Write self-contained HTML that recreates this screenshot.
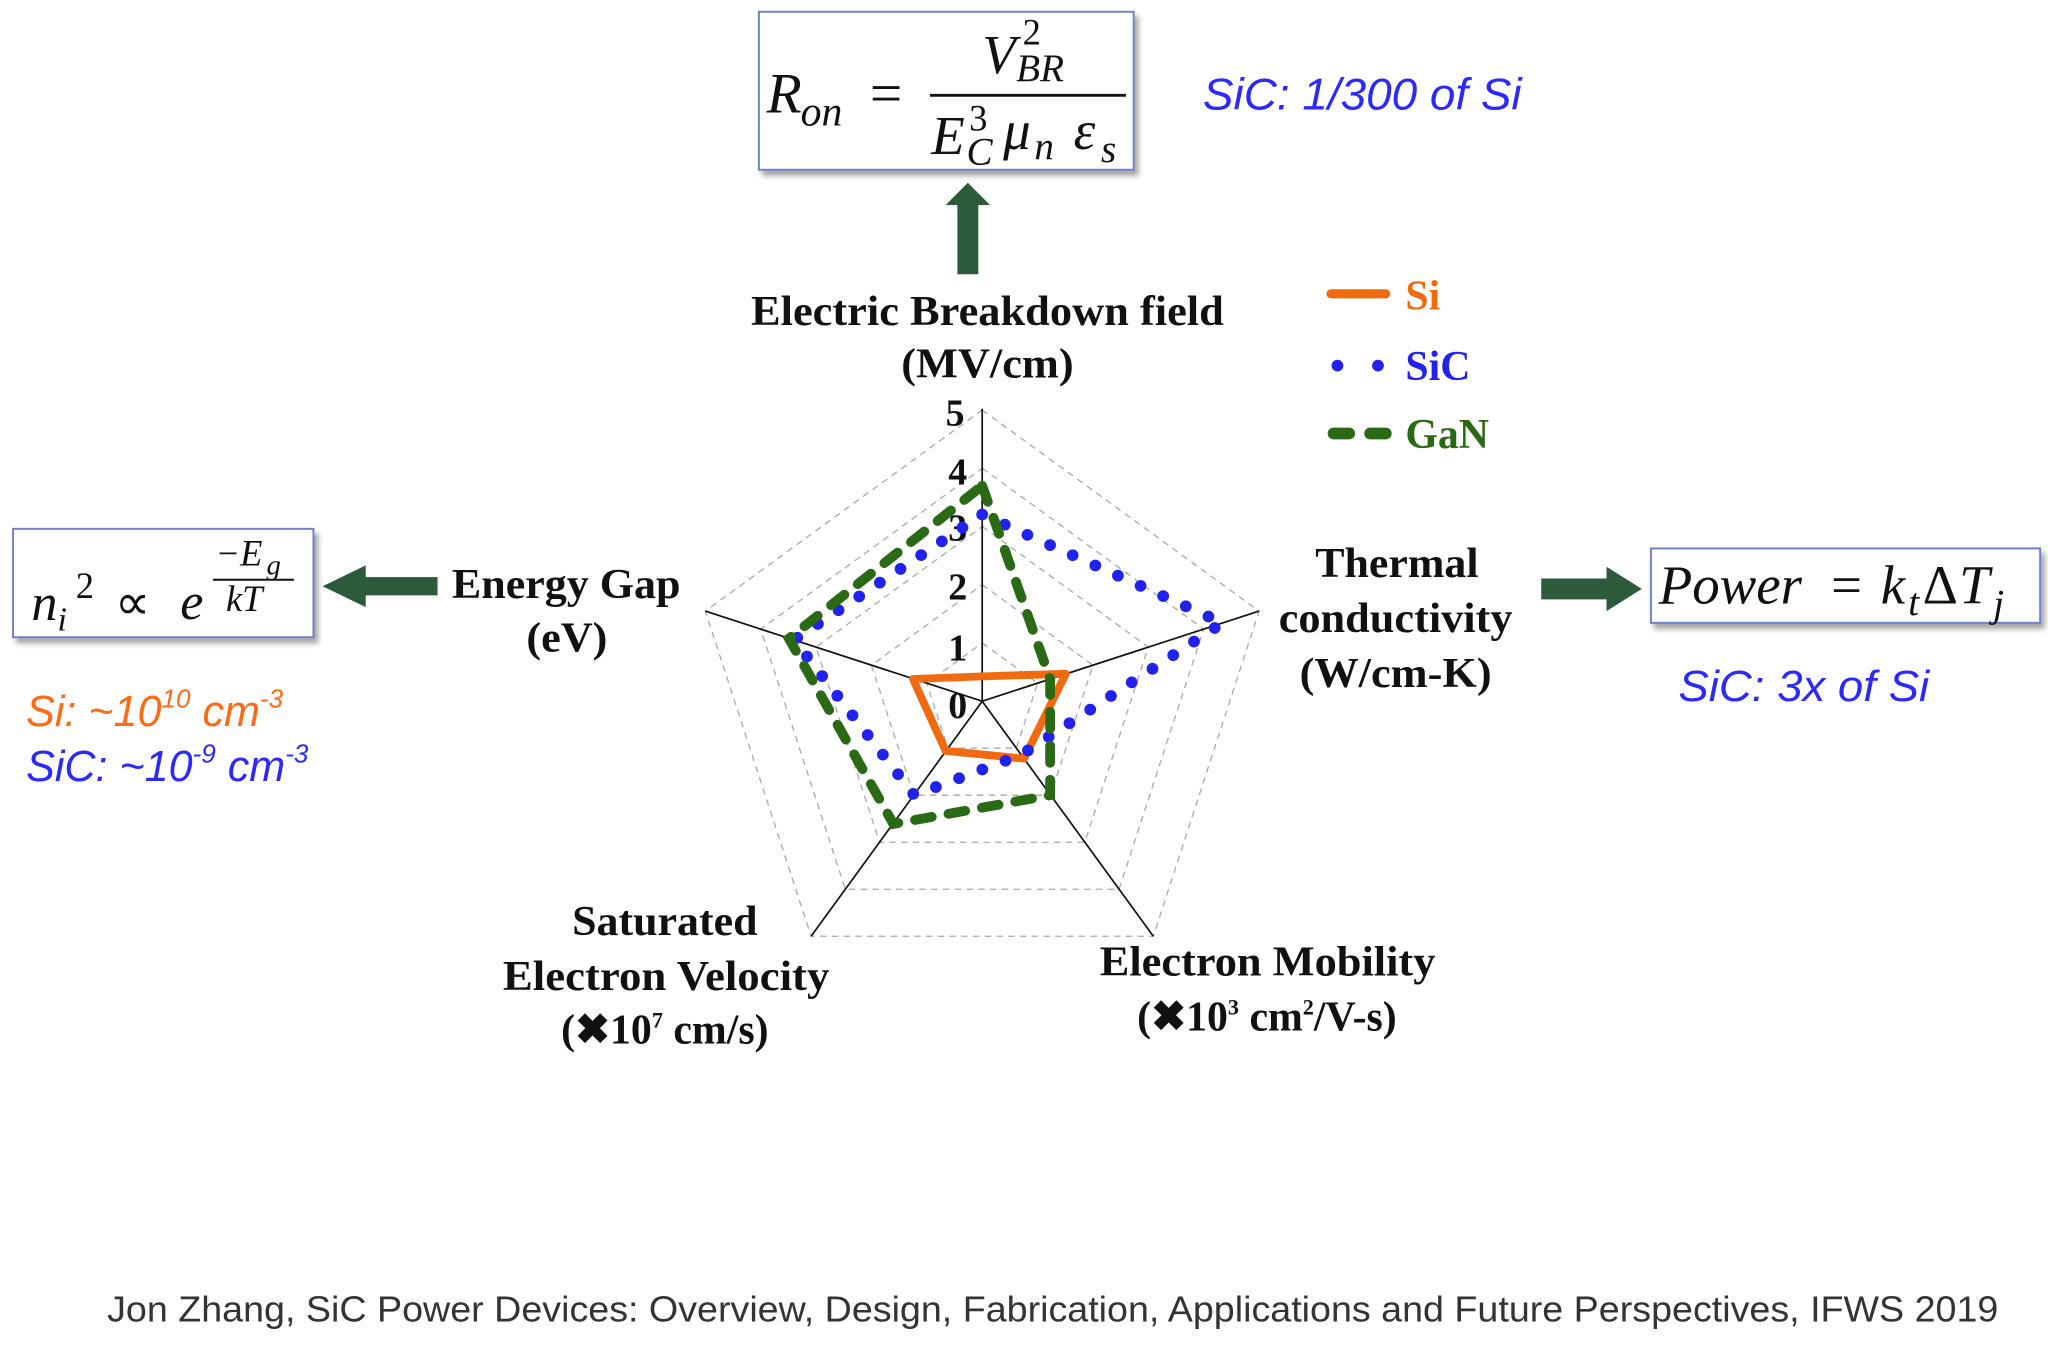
<!DOCTYPE html>
<html><head><meta charset="utf-8"><style>
html,body{margin:0;padding:0;background:#fff}
svg{display:block}
.b{font-family:"Liberation Serif",serif;font-weight:bold;fill:#111}
.m{font-family:"Liberation Serif",serif;font-style:italic;fill:#111}
.s{font-family:"Liberation Sans",sans-serif;font-style:italic}
</style></head><body>
<svg width="2048" height="1358" viewBox="0 0 1568 1040" preserveAspectRatio="none" xmlns="http://www.w3.org/2000/svg">
<defs><filter id="sh" x="-10%" y="-10%" width="130%" height="140%"><feDropShadow dx="3" dy="4" stdDeviation="2" flood-color="#000" flood-opacity="0.35"/></filter></defs>
<g fill="none" stroke="#aaa" stroke-width="1" stroke-dasharray="5 4">
<polygon points="752,492.4 794.4,523.2 778.2,573 725.8,573 709.6,523.2"/>
<polygon points="752,447.8 836.8,509.4 804.4,609 699.6,609 667.2,509.4"/>
<polygon points="752,403.2 879.2,495.6 830.6,645 673.4,645 624.8,495.6"/>
<polygon points="752,358.6 921.6,481.8 856.8,681 647.2,681 582.4,481.8"/>
<polygon points="752,314 964,468 883,717 621,717 540,468"/>
</g>
<g stroke="#111" stroke-width="1.3">
<line x1="752" y1="537" x2="752" y2="313"/><line x1="752" y1="537" x2="964" y2="468"/><line x1="752" y1="537" x2="540" y2="468"/><line x1="752" y1="537" x2="621" y2="717"/><line x1="752" y1="537" x2="883" y2="717"/>
</g>
<g class="b" font-size="29">
<text x="724" y="326">5</text><text x="726" y="371">4</text><text x="726" y="414">3</text><text x="726" y="459">2</text><text x="726" y="506">1</text><text x="726" y="550">0</text>
</g>
<polygon points="752,518 816,516 784,581 724,575 699,520" fill="none" stroke="#f26a10" stroke-width="6" stroke-linejoin="round"/>
<polygon points="752,394 936,477 782,578 700,609 608,490" fill="none" stroke="#2222ee" stroke-width="9" stroke-linecap="round" stroke-dasharray="0 19"/>
<polygon points="752,372 804,520 804,609 684,631 604,489" fill="none" stroke="#2a6a14" stroke-width="7.5" stroke-linecap="round" stroke-dasharray="13 13"/>
<line x1="1019" y1="225" x2="1061" y2="225" stroke="#f26a10" stroke-width="7" stroke-linecap="round"/>
<text class="b" x="1076" y="237" font-size="32" style="fill:#f26a10">Si</text>
<circle cx="1024" cy="280" r="4.5" fill="#2222ee"/><circle cx="1055" cy="280" r="4.5" fill="#2222ee"/>
<text class="b" x="1076" y="291" font-size="32" style="fill:#2222ee">SiC</text>
<line x1="1021" y1="332" x2="1033" y2="332" stroke="#2a6a14" stroke-width="9" stroke-linecap="round"/><line x1="1049" y1="332" x2="1061" y2="332" stroke="#2a6a14" stroke-width="9" stroke-linecap="round"/>
<text class="b" x="1076" y="343" font-size="32" style="fill:#2a6a14">GaN</text>
<g class="b" font-size="32" lengthAdjust="spacingAndGlyphs">
<text x="575" y="249" textLength="362" lengthAdjust="spacingAndGlyphs">Electric Breakdown field</text>
<text x="690" y="289" textLength="132" lengthAdjust="spacingAndGlyphs">(MV/cm)</text>
<text x="346" y="458" textLength="175" lengthAdjust="spacingAndGlyphs">Energy Gap</text>
<text x="403" y="499" textLength="62" lengthAdjust="spacingAndGlyphs">(eV)</text>
<text x="1007" y="442" textLength="125" lengthAdjust="spacingAndGlyphs">Thermal</text>
<text x="979" y="484" textLength="179" lengthAdjust="spacingAndGlyphs">conductivity</text>
<text x="995" y="526" textLength="147" lengthAdjust="spacingAndGlyphs">(W/cm-K)</text>
<text x="438" y="716" textLength="142" lengthAdjust="spacingAndGlyphs">Saturated</text>
<text x="385" y="758" textLength="250" lengthAdjust="spacingAndGlyphs">Electron Velocity</text>
<text x="842" y="747" textLength="257" lengthAdjust="spacingAndGlyphs">Electron Mobility</text>
</g>
<g class="b" font-size="32" text-anchor="middle">
<text x="509" y="799">(✖10<tspan font-size="17" dy="-12">7</tspan><tspan dy="12"> cm/s)</tspan></text>
<text x="970" y="789">(✖10<tspan font-size="17" dy="-12">3</tspan><tspan dy="12"> cm</tspan><tspan font-size="17" dy="-12">2</tspan><tspan dy="12">/V-s)</tspan></text>
</g>
<g fill="#2d5a3b">
<polygon points="733,210 749,210 749,157 758,157 741,140 724,157 733,157"/>
<polygon points="335,442 280,442 280,433 247,449 280,465 280,456 335,456"/>
<polygon points="1180,443 1230,443 1230,434 1257,451 1230,468 1230,459 1180,459"/>
</g>
<rect x="581" y="9" width="287" height="121" fill="#fff" stroke="#6f80c8" stroke-width="1.5" filter="url(#sh)"/>
<text class="m" x="587" y="86" font-size="44">R</text>
<text class="m" x="613" y="96" font-size="32">on</text>
<text class="m" x="666" y="86" font-size="44" style="font-style:normal">=</text>
<line x1="712" y1="73" x2="862" y2="73" stroke="#111" stroke-width="2.2"/>
<text class="m" x="752" y="56" font-size="42">V</text>
<text x="783" y="34" font-size="28" font-family="Liberation Serif,serif" fill="#111">2</text>
<text class="m" x="778" y="62" font-size="30">BR</text>
<text class="m" x="713" y="118" font-size="42">E</text>
<text x="742" y="100" font-size="28" font-family="Liberation Serif,serif" fill="#111">3</text>
<text class="m" x="740" y="126" font-size="30">C</text>
<text class="m" x="768" y="114" font-size="42">μ</text>
<text class="m" x="792" y="122" font-size="30">n</text>
<text class="m" x="822" y="114" font-size="42">ε</text>
<text class="m" x="843" y="124" font-size="30">s</text>
<text class="s" x="921" y="84" font-size="34" fill="#2a2aff" textLength="244" lengthAdjust="spacingAndGlyphs">SiC: 1/300 of Si</text>

<rect x="10" y="405" width="230" height="83" fill="#fff" stroke="#6f80c8" stroke-width="1.5" filter="url(#sh)"/>
<text class="m" x="24" y="475" font-size="40">n</text>
<text class="m" x="44" y="483" font-size="26">i</text>
<text x="58" y="458" font-size="28" font-family="Liberation Serif,serif" fill="#111">2</text>
<text x="88" y="474" font-size="38" font-family="Liberation Serif,serif" fill="#111">∝</text>
<text class="m" x="138" y="474" font-size="40">e</text>
<text class="m" x="165" y="433" font-size="28">−E</text>
<text class="m" x="204" y="440" font-size="22">g</text>
<line x1="163" y1="444" x2="225" y2="444" stroke="#111" stroke-width="1.5"/>
<text class="m" x="173" y="468" font-size="28">kT</text>
<text class="s" x="20" y="556" font-size="33" fill="#ff6a14">Si: ~10<tspan font-size="20" dy="-14">10</tspan><tspan dy="14"> cm</tspan><tspan font-size="20" dy="-14">-3</tspan></text>
<text class="s" x="20" y="598" font-size="33" fill="#2a2aff">SiC: ~10<tspan font-size="20" dy="-14">-9</tspan><tspan dy="14"> cm</tspan><tspan font-size="20" dy="-14">-3</tspan></text>

<rect x="1264" y="420" width="298" height="57" fill="#fff" stroke="#6f80c8" stroke-width="1.5" filter="url(#sh)"/>
<text class="m" x="1270" y="462" font-size="42">Power</text>
<text x="1402" y="462" font-size="42" font-family="Liberation Serif,serif" fill="#111">=</text>
<text class="m" x="1440" y="462" font-size="42">k</text>
<text class="m" x="1461" y="471" font-size="30">t</text>
<text x="1472" y="462" font-size="42" font-family="Liberation Serif,serif" fill="#111">Δ</text>
<text class="m" x="1500" y="462" font-size="42">T</text>
<text class="m" x="1526" y="472" font-size="30">j</text>
<text class="s" x="1285" y="537" font-size="33" fill="#2a2aff" textLength="192" lengthAdjust="spacingAndGlyphs">SiC: 3x of Si</text>

<text x="82" y="1012" font-size="28" fill="#333" font-family="Liberation Sans, sans-serif" textLength="1448" lengthAdjust="spacingAndGlyphs">Jon Zhang, SiC Power Devices: Overview, Design, Fabrication, Applications and Future Perspectives, IFWS 2019</text>
</svg>
</body></html>
